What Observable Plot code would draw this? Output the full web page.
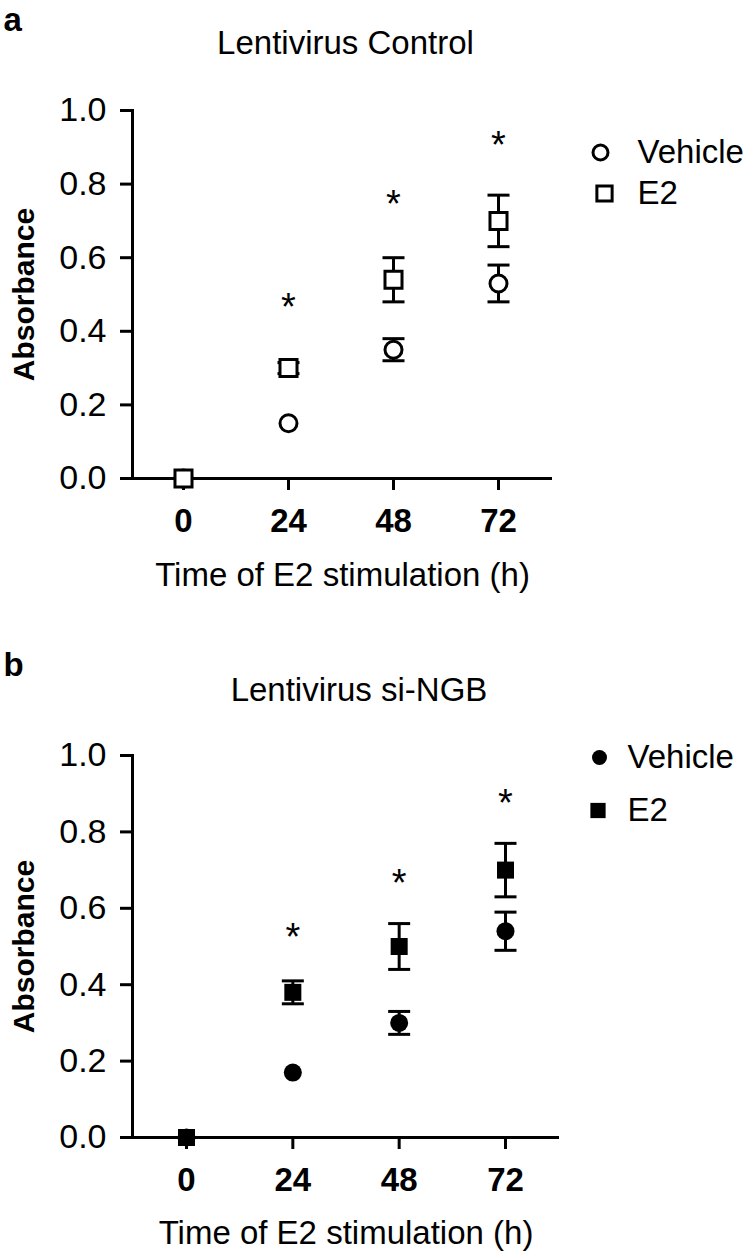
<!DOCTYPE html>
<html><head><meta charset="utf-8">
<script src="https://cdn.jsdelivr.net/npm/d3@7"></script>
<script src="https://cdn.jsdelivr.net/npm/@observablehq/plot@0.6"></script>
<style>
html,body{margin:0;padding:0;background:#fff;}
#wrap{position:relative;width:749px;height:1255px;overflow:hidden;}
#wrap svg{position:absolute;left:0;}
</style></head><body><div id="wrap"></div>
<script>
// ---- data ----
const hours = [0, 24, 48, 72];
const series = ["Vehicle", "E2"];
const yTicks = [0, 0.2, 0.4, 0.6, 0.8, 1.0];
const starHours = [24, 48, 72];
const xLabel = "Time of E2 stimulation (h)";
const yLabel = "Absorbance";

// Panel a: Lentivirus Control
const aTitle = "Lentivirus Control";
const aVehicleMean = [0, 0.15, 0.35, 0.53];
const aVehicleSem  = [0, 0.00, 0.03, 0.05];
const aE2Mean      = [0, 0.30, 0.54, 0.70];
const aE2Sem       = [0, 0.015, 0.06, 0.07];
const aStarY       = [0.49, 0.77, 0.93];

// Panel b: Lentivirus si-NGB
const bTitle = "Lentivirus si-NGB";
const bVehicleMean = [0, 0.17, 0.30, 0.54];
const bVehicleSem  = [0, 0.00, 0.03, 0.05];
const bE2Mean      = [0, 0.38, 0.50, 0.70];
const bE2Sem       = [0, 0.03, 0.06, 0.07];
const bStarY       = [0.55, 0.69, 0.90];

// ---- drawing ----
const FONT = "'Liberation Sans', Arial, Helvetica, sans-serif";
const capSymbol = {draw(ctx) { const w = 11; ctx.moveTo(-w, 0); ctx.lineTo(w, 0); }};

function rows(mean, sem) {
  return hours.map((h, i) => ({hour: h, mean: mean[i], sem: sem[i]}));
}

function panel(cfg) {
  const veh = rows(cfg.vMean, cfg.vSem);
  const e2 = rows(cfg.eMean, cfg.eSem);
  const bars = [...veh, ...e2].filter(d => d.sem > 0);
  const stars = starHours.map((h, i) => ({hour: h, y: cfg.stars[i]}));
  const L = cfg.legend;
  const fill = cfg.filled ? "black" : "white";
  const sw = cfg.filled ? 0 : 3;
  return Plot.plot({
    width: 749,
    height: cfg.height,
    marginTop: cfg.top,
    marginBottom: cfg.height - cfg.bottom,
    marginLeft: 132,
    marginRight: 749 - cfg.right,
    style: {fontFamily: FONT, fontSize: "33px", color: "black", background: "white", overflow: "visible"},
    x: {domain: [0, 72], range: cfg.xRange},
    y: {domain: [0, 1]},
    marks: [
      Plot.frame({anchor: "left", stroke: "black", strokeWidth: 3}),
      Plot.ruleY([0], {insetLeft: -12, stroke: "black", strokeWidth: 3}),
      Plot.axisY({ticks: yTicks, tickFormat: d3.format(".1f"), tickSize: 12, tickPadding: 14,
        strokeWidth: 3, fontSize: 34, label: null}),
      Plot.axisX({ticks: hours, tickFormat: d => String(d), tickSize: 12, tickPadding: 18,
        strokeWidth: 3, fontSize: 33, fontWeight: "bold", label: null}),
      Plot.text([yLabel], {text: d => d, frameAnchor: "left", rotate: -90, dx: -108,
        textAnchor: "middle", lineAnchor: "middle", fontWeight: "bold", fontSize: 30}),
      Plot.text([xLabel], {text: d => d, frameAnchor: "bottom", dy: cfg.xLabelDy,
        lineAnchor: "bottom", fontSize: 33}),
      Plot.text([cfg.title], {text: d => d, frameAnchor: "top", dx: cfg.titleDx, dy: cfg.titleDy,
        lineAnchor: "bottom", fontSize: 33}),
      Plot.text([cfg.letter], {text: d => d, frameAnchor: "top-left", dx: -129, dy: cfg.letterDy,
        textAnchor: "start", lineAnchor: "bottom", fontWeight: "bold", fontSize: 33}),
      // error bars
      Plot.ruleX(bars, {x: "hour", y1: d => d.mean - d.sem, y2: d => d.mean + d.sem, stroke: "black", strokeWidth: 3}),
      Plot.dot(bars, {x: "hour", y: d => d.mean + d.sem, symbol: capSymbol, fill: "none", stroke: "black", strokeWidth: 3}),
      Plot.dot(bars, {x: "hour", y: d => d.mean - d.sem, symbol: capSymbol, fill: "none", stroke: "black", strokeWidth: 3}),
      // markers
      Plot.dot(veh, {x: "hour", y: "mean", symbol: "circle", r: cfg.filled ? 9 : 8.5, fill, stroke: "black", strokeWidth: sw}),
      Plot.dot(e2, {x: "hour", y: "mean", symbol: "square", r: 9.6, fill, stroke: "black", strokeWidth: sw}),
      // significance
      Plot.text(stars, {x: "hour", y: "y", text: () => "*", fontSize: 38, lineAnchor: "middle", dy: 10}),
      // legend
      Plot.dot([series[0]], {frameAnchor: "top-right", dx: L.cx, dy: L.y1, symbol: "circle", r: 7.5, fill, stroke: "black", strokeWidth: sw}),
      Plot.dot([series[1]], {frameAnchor: "top-right", dx: L.sx, dy: L.y2, symbol: "square", r: 8.6, fill, stroke: "black", strokeWidth: sw}),
      Plot.text([series[0]], {text: d => d, frameAnchor: "top-right", dx: L.tx, dy: L.y1,
        textAnchor: "start", lineAnchor: "middle", fontSize: 33}),
      Plot.text([series[1]], {text: d => d, frameAnchor: "top-right", dx: L.tx, dy: L.y2,
        textAnchor: "start", lineAnchor: "middle", fontSize: 33})
    ]
  });
}

const wrap = document.getElementById("wrap");

const svgA = panel({
  height: 600, top: 110, bottom: 478, right: 552, xRange: [183, 498],
  vMean: aVehicleMean, vSem: aVehicleSem, eMean: aE2Mean, eSem: aE2Sem, stars: aStarY,
  title: aTitle, titleDx: 3, titleDy: -57, letter: "a", letterDy: -80, xLabelDy: 107,
  filled: false, legend: {cx: 48, sx: 52, tx: 85, y1: 42, y2: 83}
});
svgA.style.top = "0px";
wrap.appendChild(svgA);

const svgB = panel({
  height: 655, top: 155, bottom: 537, right: 559, xRange: [186, 505],
  vMean: bVehicleMean, vSem: bVehicleSem, eMean: bE2Mean, eSem: bE2Sem, stars: bStarY,
  title: bTitle, titleDx: 13, titleDy: -55, letter: "b", letterDy: -80, xLabelDy: 106,
  filled: true, legend: {cx: 40, sx: 38.5, tx: 68, y1: 2, y2: 55}
});
svgB.style.top = "600px";
wrap.appendChild(svgB);
</script>
</body></html>
